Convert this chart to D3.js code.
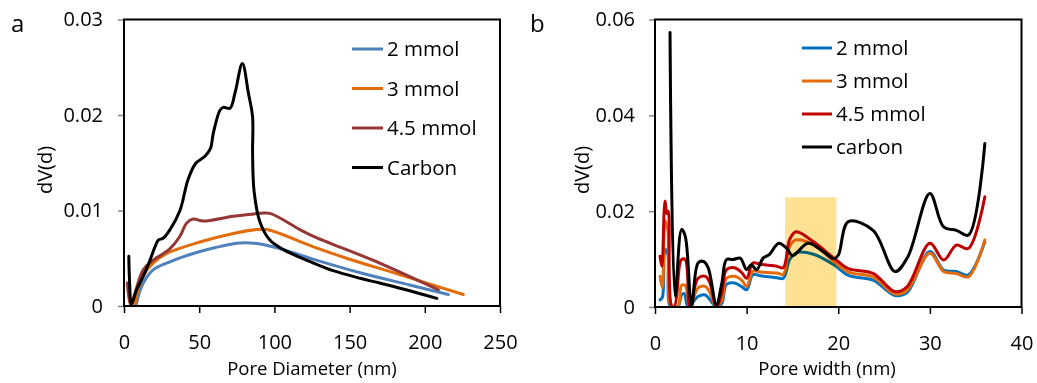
<!DOCTYPE html>
<html>
<head>
<meta charset="utf-8">
<script src="https://cdn.jsdelivr.net/npm/d3@7"></script>
<style>
  body { margin: 0; background: #fff; }
  svg text { font-family: "Open Sans", sans-serif; fill: #000; }
</style>
</head>
<body>
<div id="chart"></div>
<script>
// ---- panel a : Pore Diameter (nm) vs dV(d)
var aSeriesNames = ["2 mmol", "3 mmol", "4.5 mmol", "Carbon"];
var aColors = ["#4F81BD", "#E46C0A", "#953735", "#000000"];
var aXTicks = [0, 50, 100, 150, 200, 250];
var aYTicks = [0, 0.01, 0.02, 0.03];

var a2mmol = [[8, 0], [10, 0.0013], [12.8, 0.0024], [19.5, 0.0038], [28.4, 0.0045], [50.5, 0.0057],
  [77, 0.0066], [90.4, 0.0065], [103.7, 0.006], [130, 0.0047], [159, 0.0034], [190, 0.0022], [215.6, 0.0012]];
var a3mmol = [[7, 0], [9, 0.0015], [12.8, 0.0032], [19.5, 0.0045], [28.4, 0.0055], [50.5, 0.0067],
  [72.7, 0.0076], [88, 0.008], [95, 0.008], [126, 0.0062], [150, 0.0049], [181, 0.0034], [225.6, 0.0012]];
var a45mmol = [[2.2, 0.0024], [4.5, 0], [7, 0.0012], [12.8, 0.0038], [19.5, 0.0048], [30.6, 0.006],
  [37.2, 0.0073], [41.7, 0.0087], [46, 0.0091], [52.7, 0.0089], [72.7, 0.0094], [90.4, 0.0097],
  [97, 0.0097], [117, 0.008], [126, 0.0073], [170, 0.0045], [209, 0.0017]];
var aCarbon = [[3.2, 0.0052], [3.6, 0.003], [5, 0.0002], [8.4, 0.0017], [12.8, 0.0031], [17.3, 0.0048],
  [20.6, 0.0062], [22.8, 0.0069], [26, 0.0071], [30.6, 0.008], [37.2, 0.01], [42.5, 0.0132],
  [47.5, 0.0149], [54, 0.0157], [57.5, 0.0165], [59.4, 0.0181], [63.8, 0.0205], [66, 0.0208],
  [70.5, 0.0207], [73.8, 0.0223], [78.7, 0.0254], [82.7, 0.0223], [85.5, 0.0198], [85.5, 0.016],
  [86.5, 0.012], [90.4, 0.0088], [97, 0.0069], [106, 0.0059], [126, 0.0045], [139, 0.0037],
  [157, 0.0029], [170, 0.0024], [190, 0.0016], [208, 0.0008]];

// ---- panel b : Pore width (nm) vs dV(d)
var bSeriesNames = ["2 mmol", "3 mmol", "4.5 mmol", "carbon"];
var bColors = ["#0070C0", "#E46C0A", "#C00000", "#000000"];
var bXTicks = [0, 10, 20, 30, 40];
var bYTicks = [0, 0.02, 0.04, 0.06];
var bHighlight = [14.2, 19.8, 0.0229]; // x from, x to, top

var b2mmol = [[0.55, 0.0015], [0.8, 0.002], [1.1, 0.012], [1.4, 0.011], [1.7, 0], [2.5, 0], [2.9, 0.0025],
  [3.2, 0.0028], [3.6, 0], [4.7, 0.0022], [5.5, 0.0025], [6, 0.0015], [6.7, 0], [7.3, 0.0008],
  [7.8, 0.0047], [8.7, 0.005], [9.5, 0.0042], [10, 0.0036], [10.7, 0.0068], [11.5, 0.0065],
  [13.3, 0.0061], [14, 0.006], [14.7, 0.0099], [15.4, 0.0113], [17.3, 0.011], [19.6, 0.0087],
  [21.1, 0.0066], [23.8, 0.0056], [26.2, 0.0024], [27.5, 0.003], [30, 0.0116], [31.5, 0.0077],
  [32.9, 0.0074], [34.2, 0.0067], [36, 0.0136]];
var b3mmol = [[0.55, 0.0064], [0.8, 0.004], [1.1, 0.018], [1.4, 0.016], [1.8, 0], [2.5, 0], [2.9, 0.0045],
  [3.3, 0.0045], [3.8, 0], [4.7, 0.004], [5.5, 0.0043], [6, 0.003], [6.7, 0], [7.3, 0.0015],
  [7.8, 0.006], [8.7, 0.0064], [9.5, 0.0055], [10, 0.0043], [10.7, 0.0075], [11.5, 0.0073],
  [13.3, 0.0071], [14, 0.0068], [14.7, 0.0127], [15.4, 0.014], [17.3, 0.013], [19.6, 0.0094],
  [21.1, 0.0073], [23.8, 0.0063], [26.2, 0.0027], [27.5, 0.0035], [30, 0.0112], [31.5, 0.0074],
  [32.9, 0.007], [34.2, 0.0063], [36, 0.014]];
var b45mmol = [[0.55, 0.0106], [0.75, 0.0085], [1.0, 0.02], [1.1, 0.0221], [1.3, 0.0195], [1.45, 0.02],
  [1.8, 0.0003], [2.1, 0], [2.7, 0.009], [2.9, 0.0099], [3.3, 0.0099], [3.8, 0], [4.7, 0.006],
  [5.5, 0.0064], [6, 0.005], [6.7, 0], [7.3, 0.003], [7.8, 0.0078], [8.7, 0.0082], [9.5, 0.0071],
  [10, 0.006], [10.7, 0.0092], [11.5, 0.0089], [13.3, 0.0085], [14, 0.0082], [14.7, 0.0141],
  [15.4, 0.0157], [17.3, 0.0136], [19.6, 0.0101], [21.1, 0.008], [23.8, 0.007], [26.2, 0.0032],
  [27.5, 0.0042], [30, 0.0133], [31.5, 0.0098], [32.9, 0.0129], [34.2, 0.0122], [36, 0.023]];
var bCarbon = [[1.64, 0.0573], [2.2, 0.0022], [2.9, 0.0162], [3.3, 0.0148], [4.0, 0.0002], [4.7, 0.0092],
  [5.3, 0.0095], [5.8, 0.0082], [6.7, 0.0005], [7.3, 0.005], [7.8, 0.0099], [8.5, 0.0099],
  [9.3, 0.0102], [10, 0.0078], [10.5, 0.0088], [11.1, 0.0078], [11.8, 0.0102], [12.5, 0.011],
  [13.5, 0.0133], [14.4, 0.0122], [15.0, 0.0107], [16.7, 0.0133], [18.4, 0.0115], [19.5, 0.0101],
  [20, 0.0108], [21.1, 0.0178], [23.8, 0.016], [26.2, 0.0074], [27.6, 0.0105], [30, 0.0237],
  [31.5, 0.0167], [32.9, 0.016], [34.2, 0.015], [36, 0.0341]];

(function () {

    var svg = d3.select("#chart").append("svg")
        .attr("width", 1037)
        .attr("height", 383);

    function drawPanel(p) {
        var x = d3.scaleLinear().domain(p.xDomain).range([p.left, p.right]),
            y = d3.scaleLinear().domain(p.yDomain).range([p.bottom, p.top]);

        var g = svg.append("g");

        g.append("clipPath").attr("id", p.id + "clip")
            .append("rect")
            .attr("x", p.left).attr("y", p.top)
            .attr("width", p.right - p.left).attr("height", p.bottom - p.top);

        var line = d3.line()
            .curve(d3.curveCatmullRom.alpha(0.5))
            .x(function (d) {return x(d[0]);})
            .y(function (d) {return y(d[1]);});

        g.append("g").attr("clip-path", "url(#" + p.id + "clip)")
            .selectAll("path")
            .data(p.series)
            .enter().append("path")
            .attr("fill", "none")
            .attr("stroke", function (d, i) {return p.colors[i];})
            .attr("stroke-width", 3)
            .attr("stroke-linejoin", "round")
            .attr("stroke-linecap", "round")
            .attr("d", line);

        if (p.highlight) {
            g.append("rect")
                .attr("x", x(p.highlight[0]))
                .attr("y", y(p.highlight[2]))
                .attr("width", x(p.highlight[1]) - x(p.highlight[0]))
                .attr("height", y(0) - y(p.highlight[2]))
                .attr("fill", "#FFE194")
                .style("mix-blend-mode", "multiply");
        }

        // axes
        var yAxis = g.append("g")
            .attr("transform", "translate(" + p.left + ",0)")
            .call(d3.axisLeft(y).tickValues(p.yTicks).tickSize(6).tickSizeOuter(0)
                .tickPadding(p.yPad).tickFormat(function (d) {return String(d);}));
        yAxis.select(".domain").remove();
        yAxis.selectAll("line").attr("stroke", "#868686").attr("stroke-width", 1.5);
        yAxis.selectAll("text").attr("font-size", 20).attr("font-family", null);

        var xAxis = g.append("g")
            .attr("transform", "translate(0," + p.bottom + ")")
            .call(d3.axisBottom(x).tickValues(p.xTicks).tickSize(7).tickSizeOuter(0));
        xAxis.select(".domain").remove();
        xAxis.selectAll("line").attr("stroke", "#000").attr("stroke-width", 1.5);
        xAxis.selectAll("text")
            .attr("font-size", 20).attr("font-family", null)
            .attr("y", 36).attr("dy", "0.35em");

        g.append("rect")
            .attr("x", p.left).attr("y", p.top)
            .attr("width", p.right - p.left).attr("height", p.bottom - p.top)
            .attr("fill", "none").attr("stroke", "#000").attr("stroke-width", 2);

        // titles
        g.append("text")
            .attr("x", p.xLabelX).attr("y", 369).attr("dy", "0.35em")
            .attr("text-anchor", "middle").style("font-size", "18.5px")
            .text(p.xLabel);

        g.append("text")
            .attr("transform", "translate(" + p.yLabelX + ",170) rotate(-90)")
            .attr("dy", "0.35em")
            .attr("text-anchor", "middle").style("font-size", "20px")
            .text("dV(d)");

        g.append("text")
            .attr("x", p.tagX).attr("y", 32)
            .style("font-size", "24px")
            .text(p.tag);

        // legend
        var leg = g.selectAll(".leg")
            .data(p.names)
            .enter().append("g")
            .attr("class", "leg")
            .attr("transform", function (d, i) {return "translate(" + p.legX + "," + (p.legY + i * p.legStep) + ")";});
        leg.append("line")
            .attr("x1", 0).attr("x2", p.legLen)
            .attr("stroke", function (d, i) {return p.colors[i];})
            .attr("stroke-width", 3);
        leg.append("text")
            .attr("x", p.legLen + 4).attr("dy", "0.35em")
            .style("font-size", "20.5px")
            .text(function (d) {return d;});
    }

    drawPanel({
        id: "a", tag: "a", tagX: 11,
        left: 124, right: 500, top: 19.5, bottom: 306,
        xDomain: [0, 250], yDomain: [0, 0.03],
        xTicks: aXTicks, yTicks: aYTicks, yPad: 15,
        series: [a2mmol, a3mmol, a45mmol, aCarbon],
        colors: aColors, names: aSeriesNames,
        xLabel: "Pore Diameter (nm)", xLabelX: 312, yLabelX: 45,
        legX: 352, legY: 49, legStep: 39.5, legLen: 31
    });

    drawPanel({
        id: "b", tag: "b", tagX: 530,
        left: 655, right: 1021.5, top: 19.5, bottom: 307,
        xDomain: [0, 40], yDomain: [0, 0.06],
        xTicks: bXTicks, yTicks: bYTicks, yPad: 14,
        series: [b2mmol, b3mmol, b45mmol, bCarbon],
        colors: bColors, names: bSeriesNames, highlight: bHighlight,
        xLabel: "Pore width (nm)", xLabelX: 827, yLabelX: 582,
        legX: 802, legY: 48, legStep: 33, legLen: 30
    });

})();
</script>
</body>
</html>
